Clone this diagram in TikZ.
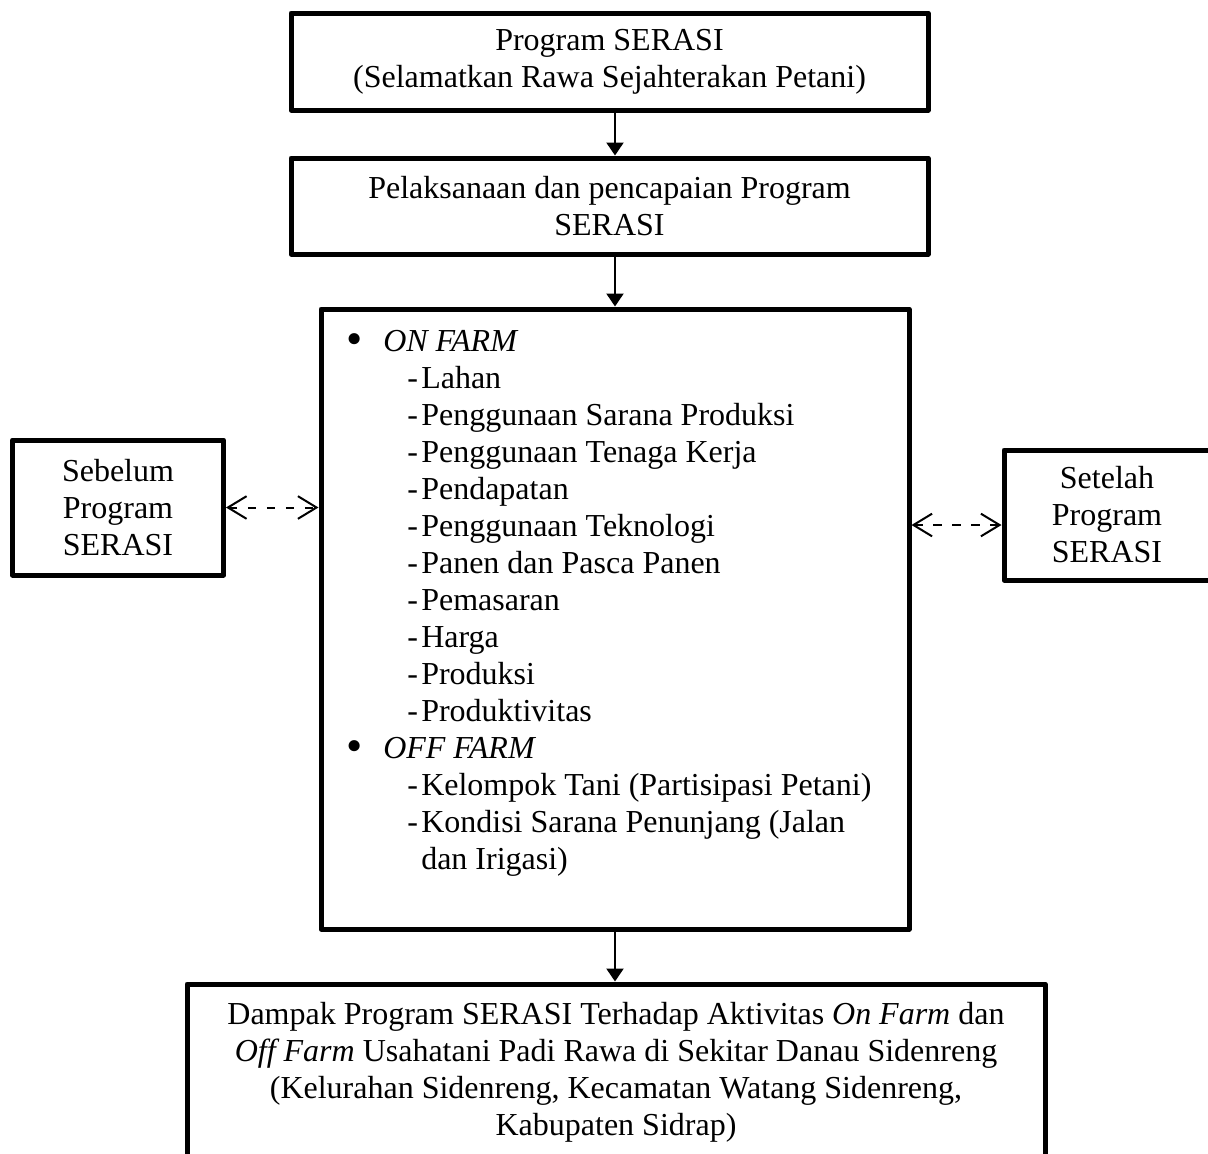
\documentclass[tikz,border=0pt]{standalone}
\usepackage{fontspec}
\usepackage{graphicx}
\setmainfont{Liberation Serif}
\usetikzlibrary{arrows.meta}
\newlength\pxu
\setlength\pxu{0.75pt}
\newcommand\mybul[1]{\makebox[37\pxu][l]{\raisebox{-0.1em}{\scalebox{1.45}{\textbullet}}}\textit{#1}}
\newcommand\mysub[1]{\hspace*{61\pxu}\makebox[14\pxu][l]{-}#1}
\begin{document}
\begin{tikzpicture}[x=0.75pt,y=-0.75pt,
  box/.style={draw,line width=3.75pt,line join=round,inner sep=0pt,align=center,
    font=\fontsize{24pt}{27.75pt}\selectfont},
  listtext/.style={inner sep=0pt,align=left,font=\fontsize{24pt}{27.75pt}\selectfont},
  arr/.style={line width=1.7pt,-{Triangle[length=9.75pt,width=12.75pt]}},
  darr/.style={line width=1.5pt,dash pattern=on 6.25pt off 8pt,
    {Straight Barb[length=14pt,width=17pt]}-{Straight Barb[length=14pt,width=17pt]}}]
\clip (0,0) rectangle (1208,1154);
\fill[white] (0,0) rectangle (1208,1154);
\node[box,minimum width=637\pxu,minimum height=97\pxu] (b1) at (609.5,61.5)
  {Program SERASI\\(Selamatkan Rawa Sejahterakan Petani)};
\node[box,minimum width=637\pxu,minimum height=96\pxu] (b2) at (609.5,206)
  {Pelaksanaan dan pencapaian Program\\SERASI};
\node[box,minimum width=588\pxu,minimum height=620\pxu] (main) at (615,619) {};
\node[box,minimum width=211\pxu,minimum height=135\pxu] (before) at (118,507.5)
  {Sebelum\\Program\\SERASI};
\node[box,minimum width=206\pxu,minimum height=130\pxu] (after) at (1107,515)
  {Setelah\\Program\\SERASI};
\node[box,minimum width=858\pxu,minimum height=177\pxu] (impact) at (616,1072.5)
  {Dampak Program SERASI Terhadap Aktivitas \textit{On Farm} dan\\
   \textit{Off Farm} Usahatani Padi Rawa di Sekitar Danau Sidenreng\\
   (Kelurahan Sidenreng, Kecamatan Watang Sidenreng,\\
   Kabupaten Sidrap)};
\node[listtext,anchor=base west] (list) at (346,869) {%
  \mybul{ON FARM}\\
  \mysub{Lahan}\\
  \mysub{Penggunaan Sarana Produksi}\\
  \mysub{Penggunaan Tenaga Kerja}\\
  \mysub{Pendapatan}\\
  \mysub{Penggunaan Teknologi}\\
  \mysub{Panen dan Pasca Panen}\\
  \mysub{Pemasaran}\\
  \mysub{Harga}\\
  \mysub{Produksi}\\
  \mysub{Produktivitas}\\
  \mybul{OFF FARM}\\
  \mysub{Kelompok Tani (Partisipasi Petani)}\\
  \mysub{Kondisi Sarana Penunjang (Jalan}\\
  \hspace*{75\pxu}dan Irigasi)};
\draw[arr] (b1.south -| main.north) -- (b2.north -| main.north);
\draw[arr] (b2.south -| main.north) -- (main.north);
\draw[arr] (main.south) -- (impact.north -| main.south);
\draw[darr] (before.east) -- (before.east -| main.west);
\coordinate (ra) at ([yshift=-7.5pt]after.west);
\draw[darr] (ra -| main.east) -- (ra);
\end{tikzpicture}
\end{document}
